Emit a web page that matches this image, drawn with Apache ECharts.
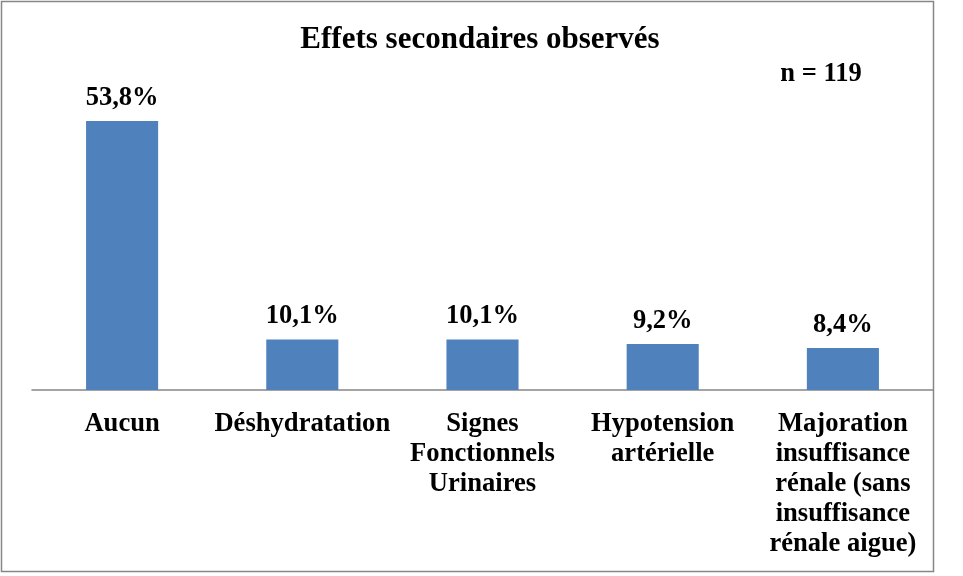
<!DOCTYPE html>
<html><head><meta charset="utf-8">
<script src="https://cdn.jsdelivr.net/npm/echarts@6/dist/echarts.min.js"></script>
<style>html,body{margin:0;padding:0;background:#fff}#c{width:963px;height:576px}</style>
</head><body><div id="c"></div>
<script>
const categories = ["Aucun", "Déshydratation", "Signes\nFonctionnels\nUrinaires", "Hypotension\nartérielle", "Majoration\ninsuffisance\nrénale (sans\ninsuffisance\nrénale aigue)"];
const values = [53.8, 10.1, 10.1, 9.2, 8.4];
const titleText = "Effets secondaires observés";
const noteText = "n = 119";
const F = "Liberation Serif";
const chart = echarts.init(document.getElementById('c'));
chart.setOption({
  animation: false,
  graphic: [
    { type: 'rect', shape: { x: 1.5, y: 1.5, width: 932, height: 570 }, style: { fill: 'none', stroke: '#868686', lineWidth: 1.5 }, silent: true },
    { type: 'text', x: 480, y: 40, style: { text: titleText, font: "bold 31px 'Liberation Serif'", fill: '#000', align: 'center', verticalAlign: 'middle' } },
    { type: 'text', x: 821, y: 74, style: { text: noteText, font: "bold 26.5px 'Liberation Serif'", fill: '#000', align: 'center', verticalAlign: 'middle' } }
  ],
  grid: { left: 32, right: 30, top: 90, bottom: 186, containLabel: false },
  xAxis: { type: 'category', data: categories,
    axisLine: { lineStyle: { color: '#868686', width: 1.5 } },
    axisTick: { show: false },
    axisLabel: { interval: 0, margin: 19, fontFamily: F, fontWeight: 'bold', fontSize: 26.6, color: '#000', lineHeight: 30 } },
  yAxis: { type: 'value', min: 0, max: 60, show: false, splitLine: { show: false } },
  series: [{ type: 'bar', data: values, barWidth: '40%',
    itemStyle: { color: '#4F81BD' },
    label: { show: true, position: 'top', distance: 8, fontFamily: F, fontWeight: 'bold', fontSize: 26.5, color: '#000', lineHeight: 30,
      formatter: p => p.value.toFixed(1).replace('.', ',') + '%' } }]
});
</script></body></html>
